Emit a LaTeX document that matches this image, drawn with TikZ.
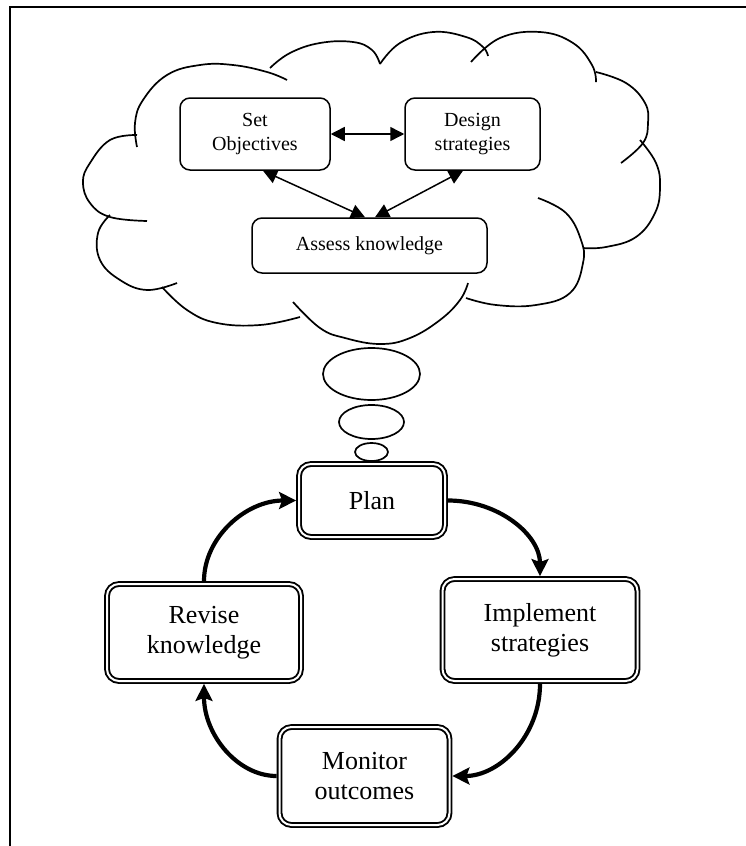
\documentclass[tikz,border=0pt]{standalone}
\usepackage{fontspec}
\setmainfont{Liberation Serif}
\usetikzlibrary{arrows.meta}
\begin{document}
\begin{tikzpicture}[x=1pt,y=-1pt,
  smallbox/.style={draw, rounded corners=10pt, line width=1.5pt, align=center,
    font=\fontsize{20}{24}\selectfont, inner sep=0pt},
  bigbox/.style={draw, double=white, double distance=2pt, line width=1.9pt,
    rounded corners=12pt, align=center, font=\fontsize{26}{30}\selectfont,
    inner sep=0pt, outer sep=2.9pt},
  thinarrow/.style={line width=1.5pt,
    {Triangle[length=14pt,width=14pt]}-{Triangle[length=14pt,width=14pt]}},
  cycarrow/.style={line width=4.2pt, -{Stealth[length=17pt,width=17pt,inset=3pt]}},
  cloudline/.style={line width=1.7pt},
]
\useasboundingbox (0,0) rectangle (746,846);
% frame
\draw[line width=1.8pt] (10,846) -- (10,7) -- (746,7);

% cloud bumps
\draw[cloudline] plot[smooth, tension=0.7] coordinates {(137,147) (135,123) (143,100) (167,75) (200,65) (233,65) (267,72) (287,80)};
\draw[cloudline] plot[smooth, tension=0.7] coordinates {(270,68) (290,53) (320,43) (353,42) (372,50) (380,64)};
\draw[cloudline] plot[smooth, tension=0.7] coordinates {(380,64) (400,43) (433,32) (466,37) (483,47) (488,56)};
\draw[cloudline] plot[smooth, tension=0.7] coordinates {(471,62) (500,38) (540,32) (573,43) (592,65) (596,82)};
\draw[cloudline] plot[smooth, tension=0.7] coordinates {(596,72) (626,83) (645,103) (648,123) (643,143) (621,163)};
\draw[cloudline] plot[smooth, tension=0.7] coordinates {(640,140) (656,163) (660,187) (655,213) (636,237) (606,247) (583,248)};
\draw[cloudline] plot[smooth, tension=0.7] coordinates {(538,198) (566,213) (581,240) (583,263) (570,293) (536,305) (496,305) (466,298)};
\draw[cloudline] plot[smooth, tension=0.7] coordinates {(468,283) (460,300) (440,320) (410,338) (380,344) (345,338) (320,328) (293,302)};
\draw[cloudline] plot[smooth, tension=0.7] coordinates {(300,317) (260,325) (217,323) (187,310) (162,287)};
\draw[cloudline] plot[smooth, tension=0.7] coordinates {(177,283) (147,290) (120,280) (100,260) (98,233) (110,215)};
\draw[cloudline] plot[smooth, tension=0.7] coordinates {(147,221) (110,217) (90,203) (83,182) (90,163) (110,140) (137,135)};

% thought bubbles
\draw[cloudline] (371.5,374) ellipse [x radius=48.5, y radius=26];
\draw[cloudline] (371.5,422) ellipse [x radius=32.5, y radius=17];
\draw[cloudline] (371.5,452) ellipse [x radius=16.5, y radius=9];

% planning nodes
\node[smallbox, minimum width=150pt, minimum height=72pt] (setobj) at (255,134) {Set\\Objectives};
\node[smallbox, minimum width=135pt, minimum height=72pt] (design) at (472.5,134) {Design\\strategies};
\node[smallbox, minimum width=235pt, minimum height=55pt] (assess) at (369.5,245.5) {Assess knowledge};

\draw[thinarrow] (setobj.east) -- (design.west);
\draw[thinarrow] ([xshift=8pt]setobj.south) -- ([xshift=-4.5pt]assess.north);
\draw[thinarrow] ([xshift=-9.5pt]design.south) -- ([xshift=5.5pt]assess.north);

% cycle nodes
\node[bigbox, minimum width=146pt, minimum height=73pt] (plan) at (372,500.5) {Plan};
\node[bigbox, minimum width=195pt, minimum height=102pt] (impl) at (540,630) {Implement\\strategies};
\node[bigbox, minimum width=170pt, minimum height=98pt] (monitor) at (364.5,776) {Monitor\\outcomes};
\node[bigbox, minimum width=194pt, minimum height=97pt] (revise) at (204,632.5) {Revise\\knowledge};

\draw[cycarrow] (plan.east) .. controls +(51,0) and +(0,-41) .. (impl.north);
\draw[cycarrow] (impl.south) .. controls +(0,52) and +(47,0) .. (monitor.east);
\draw[cycarrow] (monitor.west) .. controls +(-39,0) and +(0,51) .. (revise.south);
\draw[cycarrow] (revise.north) .. controls +(0,-44) and +(-50,0) .. (plan.west);
\end{tikzpicture}
\end{document}
